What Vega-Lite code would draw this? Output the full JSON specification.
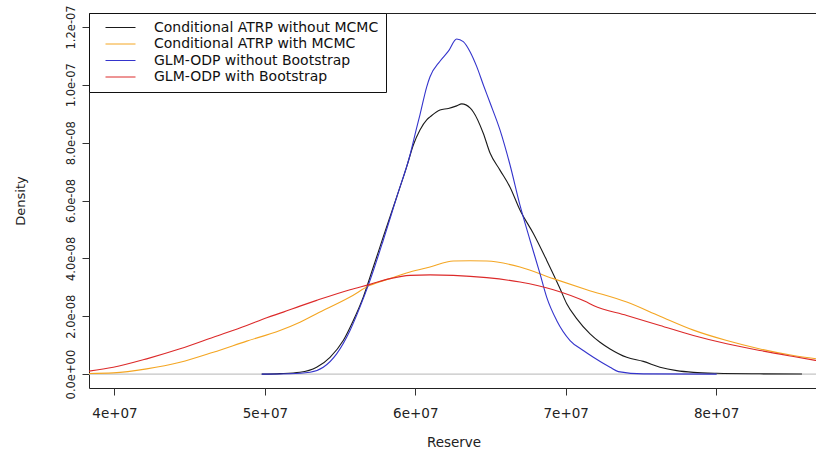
{
  "$schema": "https://vega.github.io/schema/vega-lite/v6.json",
  "width": 729,
  "height": 375,
  "autosize": {"type": "none"},
  "padding": {"left": 89, "top": 13, "right": -2, "bottom": 63},
  "background": "white",
  "config": {
    "view": {"stroke": "#222222", "strokeWidth": 1},
    "font": "DejaVu Sans",
    "axis": {
      "grid": false,
      "domain": false,
      "tickColor": "#333333",
      "tickSize": 7,
      "labelColor": "#222222",
      "titleColor": "#222222",
      "titleFontWeight": "normal",
      "labelFont": "DejaVu Sans",
      "titleFont": "DejaVu Sans",
      "labelOverlap": false,
      "labelFlush": false
    }
  },
  "layer": [
    {
      "data": {"values": [{"level": 0}]},
      "mark": {"type": "rule", "color": "#c4c4c4", "strokeWidth": 1.3},
      "encoding": {
        "y": {"field": "level", "type": "quantitative", "scale": {"domain": [-4.8e-9, 1.248e-7], "nice": false, "zero": false}}
      }
    },
    {
      "data": {
        "values": [
          {"series": "Conditional ATRP without MCMC", "reserve": 49790000, "density": 0},
          {"series": "Conditional ATRP without MCMC", "reserve": 51000000, "density": 1.7e-10},
          {"series": "Conditional ATRP without MCMC", "reserve": 52330000, "density": 6.2e-10},
          {"series": "Conditional ATRP without MCMC", "reserve": 53440000, "density": 2.36e-9},
          {"series": "Conditional ATRP without MCMC", "reserve": 54330000, "density": 5.82e-9},
          {"series": "Conditional ATRP without MCMC", "reserve": 55210000, "density": 1.161e-8},
          {"series": "Conditional ATRP without MCMC", "reserve": 55880000, "density": 1.854e-8},
          {"series": "Conditional ATRP without MCMC", "reserve": 56540000, "density": 2.662e-8},
          {"series": "Conditional ATRP without MCMC", "reserve": 57210000, "density": 3.702e-8},
          {"series": "Conditional ATRP without MCMC", "reserve": 57870000, "density": 4.741e-8},
          {"series": "Conditional ATRP without MCMC", "reserve": 58770000, "density": 6.128e-8},
          {"series": "Conditional ATRP without MCMC", "reserve": 59430000, "density": 7.168e-8},
          {"series": "Conditional ATRP without MCMC", "reserve": 59870000, "density": 7.92e-8},
          {"series": "Conditional ATRP without MCMC", "reserve": 60310000, "density": 8.44e-8},
          {"series": "Conditional ATRP without MCMC", "reserve": 60760000, "density": 8.79e-8},
          {"series": "Conditional ATRP without MCMC", "reserve": 60980000, "density": 8.89e-8},
          {"series": "Conditional ATRP without MCMC", "reserve": 61640000, "density": 9.13e-8},
          {"series": "Conditional ATRP without MCMC", "reserve": 62200000, "density": 9.18e-8},
          {"series": "Conditional ATRP without MCMC", "reserve": 62750000, "density": 9.27e-8},
          {"series": "Conditional ATRP without MCMC", "reserve": 63090000, "density": 9.34e-8},
          {"series": "Conditional ATRP without MCMC", "reserve": 63640000, "density": 9.2e-8},
          {"series": "Conditional ATRP without MCMC", "reserve": 63860000, "density": 9.06e-8},
          {"series": "Conditional ATRP without MCMC", "reserve": 64520000, "density": 8.325e-8},
          {"series": "Conditional ATRP without MCMC", "reserve": 64970000, "density": 7.64e-8},
          {"series": "Conditional ATRP without MCMC", "reserve": 65630000, "density": 7.05e-8},
          {"series": "Conditional ATRP without MCMC", "reserve": 66300000, "density": 6.46e-8},
          {"series": "Conditional ATRP without MCMC", "reserve": 66960000, "density": 5.67e-8},
          {"series": "Conditional ATRP without MCMC", "reserve": 67850000, "density": 4.86e-8},
          {"series": "Conditional ATRP without MCMC", "reserve": 68740000, "density": 3.93e-8},
          {"series": "Conditional ATRP without MCMC", "reserve": 69620000, "density": 2.96e-8},
          {"series": "Conditional ATRP without MCMC", "reserve": 70070000, "density": 2.43e-8},
          {"series": "Conditional ATRP without MCMC", "reserve": 70730000, "density": 1.92e-8},
          {"series": "Conditional ATRP without MCMC", "reserve": 71620000, "density": 1.39e-8},
          {"series": "Conditional ATRP without MCMC", "reserve": 72280000, "density": 1.1e-8},
          {"series": "Conditional ATRP without MCMC", "reserve": 72950000, "density": 8.7e-9},
          {"series": "Conditional ATRP without MCMC", "reserve": 74060000, "density": 5.8e-9},
          {"series": "Conditional ATRP without MCMC", "reserve": 75160000, "density": 4.4e-9},
          {"series": "Conditional ATRP without MCMC", "reserve": 76270000, "density": 2.4e-9},
          {"series": "Conditional ATRP without MCMC", "reserve": 77380000, "density": 1.2e-9},
          {"series": "Conditional ATRP without MCMC", "reserve": 78490000, "density": 6e-10},
          {"series": "Conditional ATRP without MCMC", "reserve": 80040000, "density": 2.8e-10},
          {"series": "Conditional ATRP without MCMC", "reserve": 82920000, "density": 1e-10},
          {"series": "Conditional ATRP without MCMC", "reserve": 85710000, "density": 3e-11},

          {"series": "Conditional ATRP with MCMC", "reserve": 38305000, "density": 2e-10},
          {"series": "Conditional ATRP with MCMC", "reserve": 39920000, "density": 4.2e-10},
          {"series": "Conditional ATRP with MCMC", "reserve": 42140000, "density": 1.8e-9},
          {"series": "Conditional ATRP with MCMC", "reserve": 44360000, "density": 4.09e-9},
          {"series": "Conditional ATRP with MCMC", "reserve": 46570000, "density": 7.56e-9},
          {"series": "Conditional ATRP with MCMC", "reserve": 48790000, "density": 1.14e-8},
          {"series": "Conditional ATRP with MCMC", "reserve": 51000000, "density": 1.508e-8},
          {"series": "Conditional ATRP with MCMC", "reserve": 52330000, "density": 1.795e-8},
          {"series": "Conditional ATRP with MCMC", "reserve": 53440000, "density": 2.087e-8},
          {"series": "Conditional ATRP with MCMC", "reserve": 55660000, "density": 2.662e-8},
          {"series": "Conditional ATRP with MCMC", "reserve": 56990000, "density": 3.067e-8},
          {"series": "Conditional ATRP with MCMC", "reserve": 58320000, "density": 3.3e-8},
          {"series": "Conditional ATRP with MCMC", "reserve": 59650000, "density": 3.528e-8},
          {"series": "Conditional ATRP with MCMC", "reserve": 60980000, "density": 3.702e-8},
          {"series": "Conditional ATRP with MCMC", "reserve": 62530000, "density": 3.91e-8},
          {"series": "Conditional ATRP with MCMC", "reserve": 63640000, "density": 3.92e-8},
          {"series": "Conditional ATRP with MCMC", "reserve": 64750000, "density": 3.91e-8},
          {"series": "Conditional ATRP with MCMC", "reserve": 66960000, "density": 3.702e-8},
          {"series": "Conditional ATRP with MCMC", "reserve": 69180000, "density": 3.3e-8},
          {"series": "Conditional ATRP with MCMC", "reserve": 71400000, "density": 2.918e-8},
          {"series": "Conditional ATRP with MCMC", "reserve": 74060000, "density": 2.49e-8},
          {"series": "Conditional ATRP with MCMC", "reserve": 76270000, "density": 2.0e-8},
          {"series": "Conditional ATRP with MCMC", "reserve": 78490000, "density": 1.52e-8},
          {"series": "Conditional ATRP with MCMC", "reserve": 80710000, "density": 1.16e-8},
          {"series": "Conditional ATRP with MCMC", "reserve": 82920000, "density": 8.7e-9},
          {"series": "Conditional ATRP with MCMC", "reserve": 85140000, "density": 6.41e-9},
          {"series": "Conditional ATRP with MCMC", "reserve": 86780000, "density": 5.2e-9},

          {"series": "GLM-ODP without Bootstrap", "reserve": 49790000, "density": 0},
          {"series": "GLM-ODP without Bootstrap", "reserve": 51670000, "density": 1e-10},
          {"series": "GLM-ODP without Bootstrap", "reserve": 53000000, "density": 6.2e-10},
          {"series": "GLM-ODP without Bootstrap", "reserve": 53880000, "density": 2.36e-9},
          {"series": "GLM-ODP without Bootstrap", "reserve": 54770000, "density": 7.0e-9},
          {"series": "GLM-ODP without Bootstrap", "reserve": 55660000, "density": 1.508e-8},
          {"series": "GLM-ODP without Bootstrap", "reserve": 56320000, "density": 2.315e-8},
          {"series": "GLM-ODP without Bootstrap", "reserve": 56990000, "density": 3.241e-8},
          {"series": "GLM-ODP without Bootstrap", "reserve": 57870000, "density": 4.627e-8},
          {"series": "GLM-ODP without Bootstrap", "reserve": 58770000, "density": 6.128e-8},
          {"series": "GLM-ODP without Bootstrap", "reserve": 59650000, "density": 7.573e-8},
          {"series": "GLM-ODP without Bootstrap", "reserve": 60090000, "density": 8.509e-8},
          {"series": "GLM-ODP without Bootstrap", "reserve": 60310000, "density": 8.96e-8},
          {"series": "GLM-ODP without Bootstrap", "reserve": 60760000, "density": 9.93e-8},
          {"series": "GLM-ODP without Bootstrap", "reserve": 60980000, "density": 1.0277e-7},
          {"series": "GLM-ODP without Bootstrap", "reserve": 61640000, "density": 1.0814e-7},
          {"series": "GLM-ODP without Bootstrap", "reserve": 62200000, "density": 1.116e-7},
          {"series": "GLM-ODP without Bootstrap", "reserve": 62750000, "density": 1.1583e-7},
          {"series": "GLM-ODP without Bootstrap", "reserve": 63190000, "density": 1.149e-7},
          {"series": "GLM-ODP without Bootstrap", "reserve": 63640000, "density": 1.1143e-7},
          {"series": "GLM-ODP without Bootstrap", "reserve": 64080000, "density": 1.0634e-7},
          {"series": "GLM-ODP without Bootstrap", "reserve": 64520000, "density": 1.0e-7},
          {"series": "GLM-ODP without Bootstrap", "reserve": 64970000, "density": 9.376e-8},
          {"series": "GLM-ODP without Bootstrap", "reserve": 65630000, "density": 8.44e-8},
          {"series": "GLM-ODP without Bootstrap", "reserve": 66300000, "density": 7.227e-8},
          {"series": "GLM-ODP without Bootstrap", "reserve": 66960000, "density": 5.84e-8},
          {"series": "GLM-ODP without Bootstrap", "reserve": 67630000, "density": 4.627e-8},
          {"series": "GLM-ODP without Bootstrap", "reserve": 68290000, "density": 3.473e-8},
          {"series": "GLM-ODP without Bootstrap", "reserve": 68740000, "density": 2.651e-8},
          {"series": "GLM-ODP without Bootstrap", "reserve": 69400000, "density": 1.854e-8},
          {"series": "GLM-ODP without Bootstrap", "reserve": 70290000, "density": 1.161e-8},
          {"series": "GLM-ODP without Bootstrap", "reserve": 71170000, "density": 8.15e-9},
          {"series": "GLM-ODP without Bootstrap", "reserve": 71840000, "density": 5.82e-9},
          {"series": "GLM-ODP without Bootstrap", "reserve": 72950000, "density": 2.36e-9},
          {"series": "GLM-ODP without Bootstrap", "reserve": 73500000, "density": 8.7e-10},
          {"series": "GLM-ODP without Bootstrap", "reserve": 75160000, "density": 7e-11},
          {"series": "GLM-ODP without Bootstrap", "reserve": 80040000, "density": 0},

          {"series": "GLM-ODP with Bootstrap", "reserve": 38305000, "density": 1.04e-9},
          {"series": "GLM-ODP with Bootstrap", "reserve": 39920000, "density": 2.36e-9},
          {"series": "GLM-ODP with Bootstrap", "reserve": 42140000, "density": 5.27e-9},
          {"series": "GLM-ODP with Bootstrap", "reserve": 44360000, "density": 8.73e-9},
          {"series": "GLM-ODP with Bootstrap", "reserve": 46570000, "density": 1.275e-8},
          {"series": "GLM-ODP with Bootstrap", "reserve": 48790000, "density": 1.681e-8},
          {"series": "GLM-ODP with Bootstrap", "reserve": 50120000, "density": 1.948e-8},
          {"series": "GLM-ODP with Bootstrap", "reserve": 51220000, "density": 2.142e-8},
          {"series": "GLM-ODP with Bootstrap", "reserve": 52330000, "density": 2.35e-8},
          {"series": "GLM-ODP with Bootstrap", "reserve": 53440000, "density": 2.548e-8},
          {"series": "GLM-ODP with Bootstrap", "reserve": 55660000, "density": 2.918e-8},
          {"series": "GLM-ODP with Bootstrap", "reserve": 56990000, "density": 3.102e-8},
          {"series": "GLM-ODP with Bootstrap", "reserve": 58320000, "density": 3.3e-8},
          {"series": "GLM-ODP with Bootstrap", "reserve": 59650000, "density": 3.414e-8},
          {"series": "GLM-ODP with Bootstrap", "reserve": 60980000, "density": 3.43e-8},
          {"series": "GLM-ODP with Bootstrap", "reserve": 62530000, "density": 3.414e-8},
          {"series": "GLM-ODP with Bootstrap", "reserve": 64750000, "density": 3.334e-8},
          {"series": "GLM-ODP with Bootstrap", "reserve": 66960000, "density": 3.182e-8},
          {"series": "GLM-ODP with Bootstrap", "reserve": 69180000, "density": 2.918e-8},
          {"series": "GLM-ODP with Bootstrap", "reserve": 71400000, "density": 2.489e-8},
          {"series": "GLM-ODP with Bootstrap", "reserve": 71840000, "density": 2.374e-8},
          {"series": "GLM-ODP with Bootstrap", "reserve": 74060000, "density": 2.028e-8},
          {"series": "GLM-ODP with Bootstrap", "reserve": 76270000, "density": 1.681e-8},
          {"series": "GLM-ODP with Bootstrap", "reserve": 78490000, "density": 1.334e-8},
          {"series": "GLM-ODP with Bootstrap", "reserve": 80710000, "density": 1.047e-8},
          {"series": "GLM-ODP with Bootstrap", "reserve": 82920000, "density": 8.15e-9},
          {"series": "GLM-ODP with Bootstrap", "reserve": 85140000, "density": 6.07e-9},
          {"series": "GLM-ODP with Bootstrap", "reserve": 86780000, "density": 4.6e-9}
        ]
      },
      "mark": {"type": "line", "strokeWidth": 1.1, "interpolate": "monotone"},
      "encoding": {
        "x": {
          "field": "reserve",
          "type": "quantitative",
          "scale": {"domain": [38305000, 86776000], "nice": false, "zero": false},
          "axis": {
            "values": [40000000, 50000000, 60000000, 70000000, 80000000],
            "labelExpr": "replace(format(datum.value, '.0e'), 'e+', 'e+0')",
            "labelFontSize": 13.5,
            "labelPadding": 11,
            "title": "Reserve",
            "titleFontSize": 13.5,
            "titlePadding": 16
          }
        },
        "y": {
          "field": "density",
          "type": "quantitative",
          "scale": {"domain": [-4.8e-9, 1.248e-7], "nice": false, "zero": false},
          "axis": {
            "values": [0, 2e-8, 4e-8, 6e-8, 8e-8, 1e-7, 1.2e-7],
            "labelExpr": "datum.value == 0 ? '0.0e+00' : replace(format(datum.value, '.1e'), 'e-', 'e-0')",
            "labelAngle": 270,
            "labelAlign": "center",
            "labelBaseline": "bottom",
            "labelFontSize": 11.5,
            "labelPadding": 6,
            "title": "Density",
            "titleFontSize": 13,
            "titlePadding": 38
          }
        },
        "color": {
          "field": "series",
          "type": "nominal",
          "scale": {
            "domain": ["Conditional ATRP without MCMC", "Conditional ATRP with MCMC", "GLM-ODP without Bootstrap", "GLM-ODP with Bootstrap"],
            "range": ["#1a1a1a", "#f4a623", "#3434cc", "#dc2a2a"]
          },
          "legend": {
            "title": null,
            "orient": "top-left",
            "offset": 0,
            "padding": 7,
            "strokeColor": "#111111",
            "fillColor": "white",
            "symbolType": "stroke",
            "symbolSize": 900,
            "symbolStrokeWidth": 1,
            "symbolOffset": 9,
            "labelFont": "DejaVu Sans",
            "labelFontSize": 14,
            "labelColor": "#111111",
            "labelOffset": 18,
            "labelLimit": 400,
            "clipHeight": 15,
            "rowPadding": 1.5
          }
        }
      }
    }
  ]
}
